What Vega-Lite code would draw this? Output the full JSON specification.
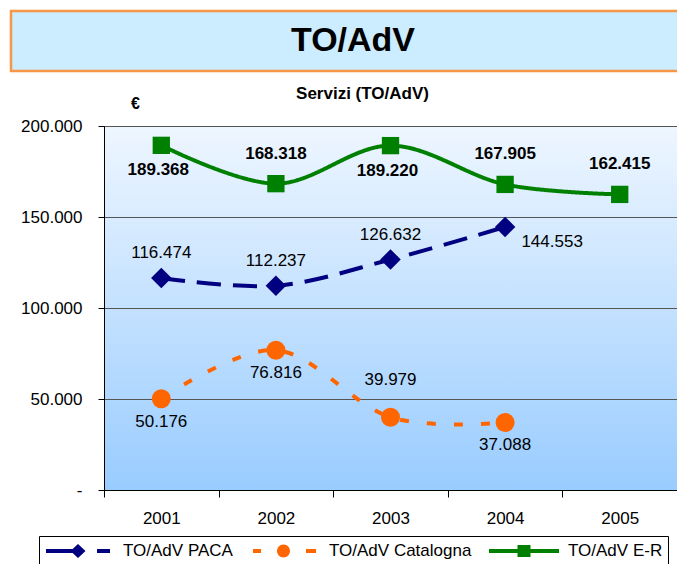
{
  "$schema": "https://vega.github.io/schema/vega-lite/v6.json",
  "padding": {"left": 9, "top": 9, "right": 0, "bottom": 0},
  "config": {
    "locale": {"number": {"decimal": ",", "thousands": ".", "grouping": [3], "currency": ["€", ""]}},
    "font": "Liberation Sans, Arial, sans-serif"
  },
  "datasets": {
    "main": [
      {"year": "2001", "serie": "TO/AdV PACA", "value": 116474},
      {"year": "2002", "serie": "TO/AdV PACA", "value": 112237},
      {"year": "2003", "serie": "TO/AdV PACA", "value": 126632},
      {"year": "2004", "serie": "TO/AdV PACA", "value": 144553},
      {"year": "2001", "serie": "TO/AdV Catalogna", "value": 50176},
      {"year": "2002", "serie": "TO/AdV Catalogna", "value": 76816},
      {"year": "2003", "serie": "TO/AdV Catalogna", "value": 39979},
      {"year": "2004", "serie": "TO/AdV Catalogna", "value": 37088},
      {"year": "2001", "serie": "TO/AdV E-R", "value": 189368},
      {"year": "2002", "serie": "TO/AdV E-R", "value": 168318},
      {"year": "2003", "serie": "TO/AdV E-R", "value": 189220},
      {"year": "2004", "serie": "TO/AdV E-R", "value": 167905},
      {"year": "2005", "serie": "TO/AdV E-R", "value": 162415}
    ]
  },
  "spacing": 11,
  "vconcat": [
    {
      "width": 670,
      "height": 60,
      "view": {"fill": "#CCECFF", "stroke": "#F79646", "strokeWidth": 2.5},
      "data": {"values": [{"t": "TO/AdV"}]},
      "mark": {"type": "text", "fontSize": 34, "fontWeight": "bold", "dx": 7, "baseline": "middle", "align": "center", "color": "black"},
      "encoding": {"text": {"field": "t"}}
    },
    {
      "spacing": 8,
      "hconcat": [
        {
          "width": 1,
          "height": 1,
          "view": {"stroke": null, "fill": null},
          "data": {"values": []},
          "mark": {"type": "point", "opacity": 0}
        },
        {
          "width": 573,
          "height": 364,
          "title": {"text": "Servizi (TO/AdV)", "fontSize": 17, "fontWeight": "bold", "color": "black", "frame": "group", "anchor": "middle", "dx": -28, "offset": -8},
          "view": {
            "fill": {"gradient": "linear", "x1": 0, "y1": 0, "x2": 0, "y2": 1, "stops": [{"offset": 0, "color": "#EEF6FF"}, {"offset": 1, "color": "#99CCFF"}]},
            "stroke": "#808080",
            "strokeWidth": 1
          },
          "data": {"name": "main"},
          "encoding": {
            "x": {
              "field": "year", "type": "ordinal",
              "scale": {"domain": ["2001", "2002", "2003", "2004", "2005"], "paddingInner": 0, "paddingOuter": 0},
              "axis": {"title": null, "tickBand": "extent", "tickSize": 7, "tickColor": "black", "domainColor": "black", "labelFontSize": 17, "labelPadding": 13, "labelAngle": 0, "labelColor": "black", "grid": false}
            },
            "y": {
              "field": "value", "type": "quantitative",
              "scale": {"domain": [0, 200000], "nice": false},
              "axis": {
                "values": [0, 50000, 100000, 150000, 200000], "format": ",d",
                "labelExpr": "datum.value == 0 ? '-' : datum.label",
                "title": "€", "titleAngle": 0, "titleX": 31, "titleY": -23, "titleFontSize": 16, "titleFontWeight": "bold", "titleAlign": "center", "titleBaseline": "middle", "titleColor": "black",
                "gridColor": "#555555", "domainColor": "black", "tickColor": "black", "tickSize": 6,
                "labelFontSize": 17, "labelPadding": 16, "labelColor": "black"
              }
            }
          },
          "layer": [
            {
              "transform": [{"filter": "datum.value < 0"}],
              "mark": {"type": "point", "filled": true, "opacity": 1},
              "encoding": {
                "color": {
                  "field": "serie", "type": "nominal",
                  "scale": {"domain": ["TO/AdV PACA", "TO/AdV Catalogna", "TO/AdV E-R"], "range": ["#000080", "#FF6600", "#008000"]},
                  "legend": {"title": null, "orient": "none", "legendX": 28, "legendY": 525, "direction": "horizontal", "columns": 3, "strokeColor": "black", "padding": 5, "symbolSize": 400, "symbolStrokeWidth": 0, "symbolOpacity": 1, "labelOffset": 59, "columnPadding": 17, "labelFontSize": 17, "labelColor": "black"}
                },
                "shape": {
                  "field": "serie", "type": "nominal",
                  "scale": {"domain": ["TO/AdV PACA", "TO/AdV Catalogna", "TO/AdV E-R"], "range": [
                    "M-0.8,-0.2L2.0,-0.2L2.0,0.2L-0.8,0.2ZM2.4,-0.7L3.15,0L2.4,0.7L1.65,0ZM4.3,-0.2L5.6,-0.2L5.6,0.2L4.3,0.2Z",
                    "M-0.7,-0.2L0.1,-0.2L0.1,0.2L-0.7,0.2ZM3.0,0A0.65,0.65 0 1,1 1.7,0A0.65,0.65 0 1,1 3.0,0ZM4.6,-0.2L5.6,-0.2L5.6,0.2L4.6,0.2Z",
                    "M-1.0,-0.2L6.0,-0.2L6.0,0.2L-1.0,0.2ZM1.85,-0.6L3.15,-0.6L3.15,0.6L1.85,0.6Z"
                  ]},
                  "legend": {"title": null, "orient": "none", "legendX": 28, "legendY": 525, "direction": "horizontal", "columns": 3, "strokeColor": "black", "padding": 5, "symbolSize": 400, "symbolStrokeWidth": 0, "symbolOpacity": 1, "labelOffset": 59, "columnPadding": 17, "labelFontSize": 17, "labelColor": "black"}
                }
              }
            },
            {
              "mark": {"type": "line", "interpolate": "cardinal", "strokeWidth": 4},
              "encoding": {
                "color": {"field": "serie", "type": "nominal", "legend": null},
                "strokeDash": {"field": "serie", "type": "nominal", "legend": null,
                  "scale": {"domain": ["TO/AdV PACA", "TO/AdV Catalogna", "TO/AdV E-R"], "range": [[24, 12], [9, 18], [1, 0]]}}
              }
            },
            {
              "transform": [{"filter": "datum.serie == 'TO/AdV PACA'"}],
              "mark": {"type": "point", "shape": "diamond", "filled": true, "size": 420, "color": "#000080", "opacity": 1}
            },
            {
              "transform": [{"filter": "datum.serie == 'TO/AdV Catalogna'"}],
              "mark": {"type": "point", "shape": "circle", "filled": true, "size": 361, "color": "#FF6600", "opacity": 1}
            },
            {
              "transform": [{"filter": "datum.serie == 'TO/AdV E-R'"}],
              "mark": {"type": "point", "shape": "square", "filled": true, "size": 300, "color": "#008000", "opacity": 1}
            },
            {
              "transform": [{"filter": "datum.serie == 'TO/AdV E-R' && (datum.year == '2001' || datum.year == '2003')"}],
              "mark": {"type": "text", "fontSize": 17, "fontWeight": "bold", "dy": 25, "dx": -3, "color": "black"},
              "encoding": {"text": {"field": "value", "type": "quantitative", "format": ",d"}}
            },
            {
              "transform": [{"filter": "datum.serie == 'TO/AdV E-R' && datum.year != '2001' && datum.year != '2003'"}],
              "mark": {"type": "text", "fontSize": 17, "fontWeight": "bold", "dy": -30, "color": "black"},
              "encoding": {"text": {"field": "value", "type": "quantitative", "format": ",d"}}
            },
            {
              "transform": [{"filter": "datum.serie == 'TO/AdV PACA' && datum.year != '2004'"}],
              "mark": {"type": "text", "fontSize": 17, "dy": -25, "color": "black"},
              "encoding": {"text": {"field": "value", "type": "quantitative", "format": ",d"}}
            },
            {
              "transform": [{"filter": "datum.serie == 'TO/AdV PACA' && datum.year == '2004'"}],
              "mark": {"type": "text", "fontSize": 17, "dx": 47, "dy": 15, "color": "black"},
              "encoding": {"text": {"field": "value", "type": "quantitative", "format": ",d"}}
            },
            {
              "transform": [{"filter": "datum.serie == 'TO/AdV Catalogna' && datum.year != '2003'"}],
              "mark": {"type": "text", "fontSize": 17, "dy": 23, "color": "black"},
              "encoding": {"text": {"field": "value", "type": "quantitative", "format": ",d"}}
            },
            {
              "transform": [{"filter": "datum.serie == 'TO/AdV Catalogna' && datum.year == '2003'"}],
              "mark": {"type": "text", "fontSize": 17, "dy": -37, "color": "black"},
              "encoding": {"text": {"field": "value", "type": "quantitative", "format": ",d"}}
            }
          ]
        }
      ]
    }
  ]
}
